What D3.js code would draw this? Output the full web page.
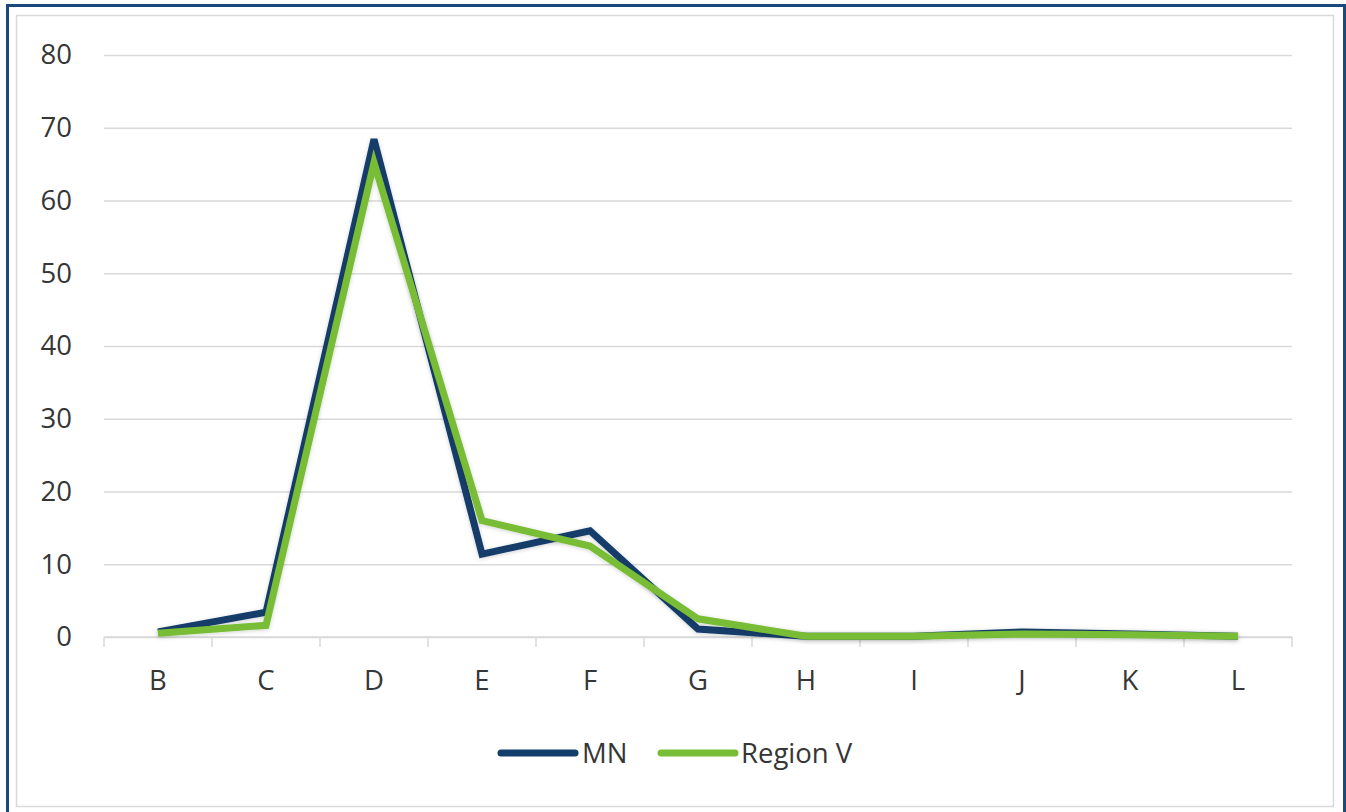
<!DOCTYPE html>
<html>
<head>
<meta charset="utf-8">
<script src="https://cdn.jsdelivr.net/npm/d3@7"></script>
<style>
  html, body { margin: 0; padding: 0; background: #fff; }
  svg { display: block; }
  text { font-family: "Open Sans", "Noto Sans", sans-serif; fill: #363636; }
</style>
</head>
<body>
<svg id="chart" width="1346" height="812"></svg>
<script>
// Categories along the x axis
const categories = ["B", "C", "D", "E", "F", "G", "H", "I", "J", "K", "L"];
// Series values
const mnValues      = [0.7, 3.4, 68.4, 11.4, 14.6, 1.1, 0.1, 0.1, 0.7, 0.4, 0.1];
const regionValues  = [0.5, 1.6, 65.2, 16.0, 12.5, 2.5, 0.1, 0.1, 0.4, 0.3, 0.1];
const seriesNames   = ["MN", "Region V"];
const seriesColors  = ["#123e6b", "#78bd36"];
// Y axis ticks
const yTicks = [0, 10, 20, 30, 40, 50, 60, 70, 80];

const svg = d3.select("#chart");
const labelSize = "27.5px";

// Outer frame and inner chart-area border
svg.append("rect")
  .attr("x", 7.5).attr("y", 5.5)
  .attr("width", 1337).attr("height", 830)
  .attr("fill", "none").attr("stroke", "#1a4a7c").attr("stroke-width", 3);
svg.append("rect")
  .attr("x", 16.5).attr("y", 15.5)
  .attr("width", 1317).attr("height", 791)
  .attr("fill", "none").attr("stroke", "#d9d9d9").attr("stroke-width", 1.5);

const plot = { left: 104, right: 1292, top: 55, bottom: 637 };

const x = d3.scaleBand().domain(categories).range([plot.left, plot.right]).padding(0);
const y = d3.scaleLinear().domain([0, 80]).range([plot.bottom, plot.top]);

// Horizontal gridlines and y labels
const yAxis = d3.axisLeft(y).tickValues(yTicks).tickSize(-(plot.right - plot.left)).tickPadding(32);
const gy = svg.append("g").attr("transform", `translate(${plot.left},0)`).call(yAxis);
gy.select(".domain").remove();
gy.selectAll(".tick line").attr("stroke", "#d9d9d9").attr("stroke-width", 1.5);
gy.selectAll(".tick text").style("font-size", labelSize).attr("fill", "#363636")
  .attr("font-family", "'Open Sans', sans-serif");

// X axis baseline, category boundary ticks and labels
const gx = svg.append("g").attr("transform", `translate(0,${plot.bottom})`);
gx.append("line")
  .attr("x1", plot.left).attr("x2", plot.right)
  .attr("stroke", "#d9d9d9").attr("stroke-width", 1.5);
const bounds = categories.map(c => x(c)).concat([plot.right]);
gx.selectAll("line.bound").data(bounds).join("line")
  .attr("class", "bound")
  .attr("x1", d => d).attr("x2", d => d)
  .attr("y1", 0).attr("y2", 10)
  .attr("stroke", "#d9d9d9").attr("stroke-width", 1.5);
gx.selectAll("text.cat").data(categories).join("text")
  .attr("class", "cat")
  .attr("x", d => x(d) + x.bandwidth() / 2)
  .attr("y", 53)
  .attr("text-anchor", "middle")
  .style("font-size", labelSize)
  .text(d => d);

// Soft shadow under the lines
const defs = svg.append("defs");
const f = defs.append("filter").attr("id", "soft").attr("x", "-5%").attr("y", "-5%").attr("width", "110%").attr("height", "110%");
f.append("feDropShadow").attr("dx", 0).attr("dy", 1).attr("stdDeviation", 2)
  .attr("flood-color", "#000").attr("flood-opacity", 0.18);

const line = d3.line()
  .x((d, i) => x(categories[i]) + x.bandwidth() / 2)
  .y(d => y(d));

const series = [mnValues, regionValues];
series.forEach((vals, i) => {
  svg.append("path")
    .datum(vals)
    .attr("d", line)
    .attr("fill", "none")
    .attr("stroke", seriesColors[i])
    .attr("stroke-width", 7)
    .attr("stroke-linejoin", "miter")
    .attr("stroke-linecap", "butt")
    .attr("filter", "url(#soft)");
});

// Legend
const legend = svg.append("g").attr("transform", "translate(0,753)");
const legendItems = [
  { name: seriesNames[0], color: seriesColors[0], x1: 501, x2: 575, tx: 582 },
  { name: seriesNames[1], color: seriesColors[1], x1: 661, x2: 735, tx: 741 }
];
legendItems.forEach(it => {
  legend.append("line")
    .attr("x1", it.x1).attr("x2", it.x2)
    .attr("stroke", it.color).attr("stroke-width", 7).attr("stroke-linecap", "round");
  legend.append("text")
    .attr("x", it.tx).attr("y", 10)
    .style("font-size", labelSize)
    .text(it.name);
});
</script>
</body>
</html>
